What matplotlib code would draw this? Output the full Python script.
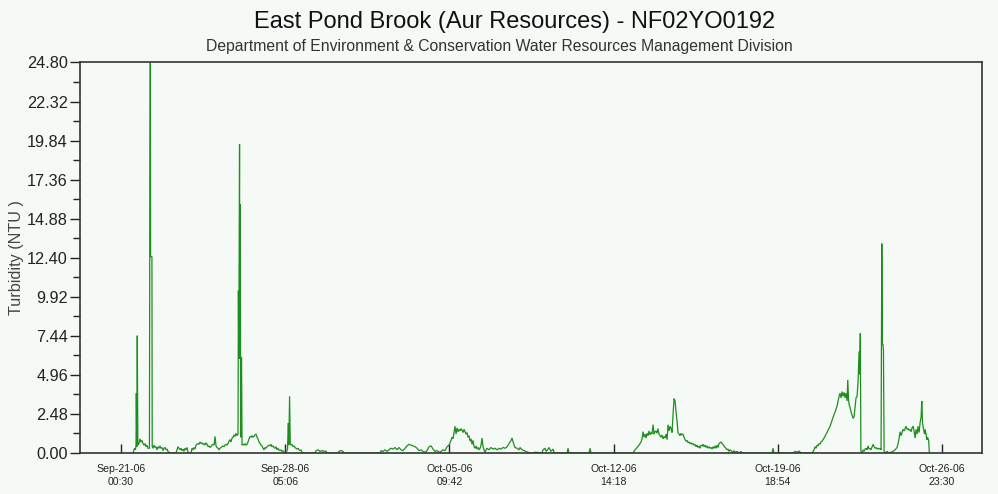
import matplotlib
matplotlib.use("Agg")
import matplotlib.pyplot as plt
import matplotlib.dates as mdates
from matplotlib.ticker import MultipleLocator, FixedLocator
import numpy as np
import pandas as pd

plt.rcParams['font.family'] = ['Liberation Sans', 'DejaVu Sans']

title = "East Pond Brook (Aur Resources) - NF02YO0192"
subtitle = "Department of Environment & Conservation Water Resources Management Division"
y_label = "Turbidity (NTU )"

start_time = "2006-09-21 00:30"
# hours since start_time
hours = [
    12.6, 14.2, 15.2, 15.8, 16.1, 16.6, 17.1, 17.7, 18.9, 20.0, 21.0, 22.1, 23.1, 24.2, 25.2, 26.3, 27.3, 28.4,
    29.9, 30.2, 30.8, 31.1, 32.5, 32.8, 33.6, 34.7, 35.7, 36.8, 37.8, 38.9, 39.9, 41.0, 42.0, 43.1, 44.2, 45.2,
    46.3, 47.3, 48.4, 49.4, 50.5, 51.5,
    57.8, 58.9, 59.9, 61.0, 62.0, 63.1, 64.1, 65.2, 66.2, 67.3, 68.3, 69.4, 70.4, 71.5,
    73.6, 74.6, 75.7, 76.7, 77.8, 78.8, 79.9, 80.9, 82.0, 83.0, 84.1, 85.1, 86.2, 87.2, 88.3, 89.4, 90.4, 91.5,
    92.5, 93.6, 94.6, 95.7, 96.7, 97.8, 98.8, 99.9, 100.9, 102.0, 103.0, 104.1, 105.1, 106.2, 107.2, 108.3,
    109.3, 110.4, 111.4, 112.5, 113.5, 114.6, 115.6, 116.7, 117.7, 118.8, 119.8, 120.9, 121.9, 123.0,
    123.4, 123.8, 124.6, 124.9, 125.4, 125.8, 126.7, 127.2,
    128.2, 129.3, 130.3, 131.4, 132.5, 133.5, 134.6, 135.6, 136.7, 137.7, 138.8, 139.8, 140.9, 141.9, 143.0,
    144.0, 145.1, 146.1, 147.2, 148.2, 149.3, 150.3, 151.4, 152.4, 153.5, 154.5, 155.6, 156.6, 157.7, 158.7,
    159.8, 160.8, 161.9, 162.9, 164.0, 165.0, 166.1, 167.1, 168.2, 169.2, 170.3, 171.3, 172.4,
    174.0, 175.0, 175.9, 176.4, 177.2, 177.9, 178.7, 179.8, 180.8, 181.9, 182.9, 184.0, 185.0, 186.1, 187.1,
    188.2, 189.2, 190.3, 191.3,
    203.9, 205.0, 207.1, 209.2, 211.3, 213.4, 215.5, 216.5,
    228.1, 229.2, 231.3, 233.4, 234.4,
    272.3, 273.3, 275.4, 277.5, 279.6, 281.7, 283.8, 285.9, 288.0, 290.1, 292.2, 294.3, 296.4, 298.5, 300.6,
    302.7, 304.8, 307.0, 309.1, 311.2, 313.3, 315.4, 317.5, 319.6, 321.7, 323.8, 325.9, 328.0, 330.1, 332.2,
    334.3, 336.4, 338.5, 340.6, 342.7, 344.8, 345.8, 346.9, 347.9, 349.0, 350.0, 351.1, 352.2, 353.2, 354.3,
    355.3, 356.4, 357.4, 358.5, 359.5, 360.6, 361.6, 362.7, 363.7, 364.8, 365.8, 366.9, 367.9, 369.0, 370.0,
    371.1, 372.1, 373.2, 374.2, 375.3, 376.3, 377.4, 378.4, 379.5, 380.5, 381.6, 382.6, 383.7, 384.7, 386.8,
    388.9, 391.0, 393.2, 395.3, 397.4, 399.5, 401.6, 403.7, 405.8, 407.9, 410.0, 411.0, 412.1, 413.1, 414.2,
    416.3, 418.4, 419.4, 421.5, 423.6, 425.7, 427.8, 429.9,
    433.1, 435.2, 438.4, 440.5,
    442.6, 443.6, 445.7, 446.8, 448.9, 449.9, 452.0, 454.1, 455.2,
    468.8, 469.9, 470.9,
    492.0, 493.0, 494.1,
    538.2, 540.3, 542.4, 544.5, 546.6, 547.7, 548.7, 549.8, 550.8, 551.9, 552.9, 554.0, 555.0, 556.1, 557.1,
    558.2, 559.2, 560.3, 561.3, 562.4, 563.4, 564.5, 565.5, 566.6, 567.6, 568.7, 569.8, 570.8, 571.9, 572.9,
    574.0, 575.0, 576.1, 577.1, 578.2, 579.2, 580.3, 581.3, 582.4, 583.4, 584.5, 585.5, 586.6, 587.6, 588.7,
    589.7, 590.8, 591.8, 592.9, 593.9, 595.0, 596.0, 597.1, 598.1, 599.2, 600.2, 601.3, 602.3, 603.4, 604.4,
    605.5, 606.5, 607.6, 608.6, 609.7, 610.7, 611.8, 612.8, 613.9, 615.0, 616.0, 617.1, 618.1, 619.2, 620.2,
    621.3, 622.3, 623.4, 624.4, 625.5, 626.5, 627.6, 628.6, 629.7, 630.7, 631.8, 632.8, 633.9, 634.9, 636.0,
    637.0, 638.1, 639.1, 640.2, 641.2, 642.3, 643.3, 644.4, 645.4, 647.5, 649.6, 651.7, 652.8,
    684.3, 685.4, 686.4,
    706.4, 708.5, 710.6, 712.7, 714.8,
    726.4, 728.5, 729.5, 730.6, 731.6, 732.7, 733.7, 734.8, 735.8, 736.9, 737.9, 739.0, 740.0, 741.1, 742.1,
    743.2, 744.2, 745.3, 746.4, 747.4, 748.5, 749.5, 750.6, 751.6, 752.7, 753.7, 754.8, 755.8, 756.9, 757.9,
    759.0, 760.0, 761.1, 762.1, 763.2, 763.9, 764.7, 765.3, 766.3, 767.4, 768.4, 769.5, 770.5, 771.6, 772.6,
    773.7, 774.7, 775.8, 776.4, 777.1, 777.7, 778.9, 780.0, 781.0, 782.1, 783.1, 784.2, 785.2, 786.3, 787.3,
    788.4, 789.5, 790.5, 791.6, 792.6, 793.7, 794.7, 795.8, 796.8, 797.9, 798.9, 799.7, 800.3, 800.9, 801.4,
    802.1, 803.1, 805.2, 807.3, 809.4, 811.5, 813.6, 815.7, 816.8, 817.8, 818.9, 819.9, 821.0, 822.0, 823.1,
    824.1, 825.2, 826.2, 827.3, 828.3, 829.4, 830.4, 831.5, 832.6, 833.6, 834.7, 835.7, 836.8, 837.8, 838.9,
    839.9, 841.0, 841.7, 842.5, 843.6, 844.6, 845.2, 846.2, 847.0, 847.8, 848.9, 849.7,
]
turbidity = [
    0.0, 0.3, 0.2, 0.5, 3.8, 0.4, 7.45, 0.5, 0.6, 0.9, 0.7, 0.8, 0.6, 0.5, 0.6, 0.4, 0.5, 0.3,
    0.3, 12.47, 24.8, 12.47, 12.47, 0.4, 0.3, 0.5, 0.35, 0.4, 0.2, 0.4, 0.3, 0.45, 0.3, 0.35, 0.15, 0.3,
    0.35, 0.2, 0.25, 0.1, 0.05, 0.0,
    0.0, 0.2, 0.4, 0.3, 0.2, 0.3, 0.15, 0.25, 0.1, 0.3, 0.2, 0.35, 0.05, 0.0,
    0.0, 0.3, 0.2, 0.35, 0.25, 0.5, 0.55, 0.6, 0.55, 0.7, 0.6, 0.65, 0.55, 0.6, 0.5, 0.65, 0.55, 0.4,
    0.45, 0.35, 0.4, 0.5, 0.55, 0.5, 1.05, 0.45, 0.35, 0.3, 0.2, 0.3, 0.35, 0.4, 0.45, 0.4,
    0.5, 0.55, 0.5, 0.6, 0.75, 0.85, 0.7, 0.95, 1.0, 1.15, 1.05, 1.25, 1.1, 1.2,
    10.3, 6.0, 19.6, 6.0, 15.8, 1.0, 6.1, 0.5,
    0.55, 0.5, 0.6, 0.5, 0.55, 0.7, 0.9, 1.05, 1.0, 1.1, 1.0, 1.05, 1.15, 1.2, 1.0,
    0.9, 0.7, 0.6, 0.5, 0.45, 0.3, 0.2, 0.35, 0.3, 0.4, 0.45, 0.5, 0.45, 0.55, 0.4,
    0.45, 0.35, 0.3, 0.4, 0.2, 0.3, 0.2, 0.15, 0.2, 0.1, 0.15, 0.05, 0.0,
    0.1, 0.2, 1.9, 0.5, 3.6, 0.6, 0.5, 0.55, 0.4, 0.45, 0.35, 0.3, 0.25, 0.3, 0.2,
    0.15, 0.2, 0.05, 0.0,
    0.0, 0.15, 0.2, 0.1, 0.15, 0.1, 0.12, 0.0,
    0.0, 0.12, 0.15, 0.1, 0.0,
    0.0, 0.15, 0.1, 0.2, 0.1, 0.2, 0.3, 0.25, 0.35, 0.2, 0.35, 0.2, 0.15, 0.3, 0.45,
    0.55, 0.5, 0.45, 0.4, 0.3, 0.15, 0.2, 0.1, 0.05, 0.15, 0.4, 0.45, 0.25, 0.1, 0.15,
    0.05, 0.1, 0.2, 0.15, 0.4, 0.5, 0.65, 0.8, 1.0, 0.9, 1.3, 1.7, 1.2, 1.6, 1.35,
    1.5, 1.4, 1.55, 1.45, 1.3, 1.5, 1.35, 1.2, 1.3, 1.0, 1.1, 0.75, 0.9, 0.55, 0.8,
    0.4, 0.3, 0.45, 0.25, 0.35, 0.2, 0.3, 0.5, 0.95, 0.4, 0.2, 0.05, 0.2, 0.3, 0.2,
    0.35, 0.25, 0.3, 0.2, 0.3, 0.25, 0.35, 0.3, 0.4, 0.6, 0.8, 0.95, 0.7, 0.5, 0.35,
    0.3, 0.2, 0.35, 0.2, 0.15, 0.1, 0.05, 0.0,
    0.0, 0.05, 0.03, 0.0,
    0.0, 0.2, 0.3, 0.1, 0.25, 0.35, 0.1, 0.25, 0.0,
    0.0, 0.3, 0.0,
    0.0, 0.3, 0.0,
    0.0, 0.2, 0.35, 0.5, 0.7, 0.9, 1.35, 1.0, 1.2, 0.95, 1.25, 1.1, 1.4, 1.15, 1.3,
    1.2, 1.8, 1.2, 1.35, 1.4, 1.25, 1.55, 1.2, 1.1, 1.0, 1.15, 0.9, 1.05, 0.95, 1.2,
    0.85, 1.8, 1.4, 1.7, 1.55, 1.3, 2.5, 3.45, 3.3, 2.6, 2.0, 1.3, 1.2, 1.1, 1.25,
    1.15, 1.2, 1.0, 0.85, 0.75, 0.8, 0.65, 0.7, 0.6, 0.65, 0.55, 0.6, 0.5, 0.55, 0.4,
    0.5, 0.35, 0.45, 0.3, 0.5, 0.45, 0.55, 0.4, 0.5, 0.35, 0.45, 0.3, 0.4, 0.3, 0.35,
    0.25, 0.4, 0.3, 0.45, 0.3, 0.5, 0.35, 0.6, 0.65, 0.7, 0.6, 0.55, 0.45, 0.35, 0.3,
    0.2, 0.25, 0.1, 0.2, 0.15, 0.1, 0.05, 0.15, 0.05, 0.1, 0.0, 0.1, 0.0,
    0.0, 0.3, 0.0,
    0.0, 0.1, 0.05, 0.12, 0.0,
    0.0, 0.2, 0.4, 0.3, 0.5, 0.45, 0.6, 0.55, 0.7, 0.75, 0.85, 0.95, 1.05, 1.2, 1.3,
    1.45, 1.55, 1.7, 1.9, 2.1, 2.3, 2.45, 2.6, 2.8, 3.0, 3.3, 3.6, 3.8, 3.5, 3.9,
    3.6, 3.85, 3.5, 3.8, 3.3, 4.65, 3.4, 3.1, 2.9, 2.6, 2.4, 2.2, 2.3, 2.9, 3.5,
    3.6, 4.5, 6.45, 5.0, 7.6, 0.1, 0.0, 0.2, 0.1, 0.25, 0.3, 0.2, 0.45, 0.25, 0.3,
    0.2, 0.4, 0.55, 0.4, 0.3, 0.35, 0.25, 0.3, 0.25, 0.3, 0.2, 13.3, 6.9, 6.9, 6.5,
    0.1, 0.0, 0.1, 0.0, 0.05, 0.1, 0.2, 0.35, 0.6, 0.9, 1.35, 1.1, 1.3, 1.5, 1.4,
    1.55, 1.7, 1.5, 1.55, 1.45, 1.5, 1.35, 1.6, 1.7, 1.4, 0.95, 1.5, 1.2, 1.7, 1.3,
    1.9, 2.3, 3.3, 1.9, 1.5, 1.2, 1.5, 1.2, 0.85, 1.0, 0.8, 0.0,
]

y_ticks = [0.00, 2.48, 4.96, 7.44, 9.92, 12.40, 14.88, 17.36, 19.84, 22.32, 24.80]
x_tick_times = ["2006-09-21 00:30", "2006-09-28 05:06", "2006-10-05 09:42",
                "2006-10-12 14:18", "2006-10-19 18:54", "2006-10-26 23:30"]
x_tick_labels = ["Sep-21-06\n00:30", "Sep-28-06\n05:06", "Oct-05-06\n09:42",
                 "Oct-12-06\n14:18", "Oct-19-06\n18:54", "Oct-26-06\n23:30"]
x_range = ["2006-09-19 05:24", "2006-10-28 17:30"]

bg = '#f5faf6'
fig = plt.figure(figsize=(9.98, 4.94), dpi=100, facecolor=bg)
ax = fig.add_axes([80/998, 41/494, 902/998, 390.5/494])
ax.set_facecolor(bg)

times = pd.Timestamp(start_time) + pd.to_timedelta(hours, unit='h')
ax.plot(times, turbidity, color='#1e8e1e', lw=0.9, solid_joinstyle='miter')

ax.set_ylim(y_ticks[0], y_ticks[-1])
ax.yaxis.set_major_locator(FixedLocator(y_ticks))
ax.yaxis.set_minor_locator(MultipleLocator(y_ticks[1] / 2))
ax.set_yticklabels([f"{v:.2f}" for v in y_ticks])

ax.set_xlim(pd.Timestamp(x_range[0]), pd.Timestamp(x_range[1]))
ax.set_xticks([pd.Timestamp(t) for t in x_tick_times])
ax.set_xticklabels(x_tick_labels, fontsize=7.6, linespacing=1.35)

ax.tick_params(axis='y', which='major', direction='out', length=7.2, width=1, labelsize=11.7, colors='#222222', pad=1.5)
ax.tick_params(axis='y', which='minor', direction='out', length=5, width=1, colors='#222222')
ax.tick_params(axis='x', which='major', direction='in', length=6.5, width=1, colors='#222222', pad=8)

for s in ax.spines.values():
    s.set_color('#333333')
    s.set_linewidth(1.2)

ax.set_ylabel(y_label, fontsize=11.6, color='#444444', labelpad=2)

fig.text(514.5/998, 1 - 22/494, title, ha='center', va='center', fontsize=17, color='#111111')
fig.text(499/998, 1 - 46/494, subtitle, ha='center', va='center', fontsize=11.3, color='#333333')

fig.savefig("out.png", dpi=100, facecolor=bg)
